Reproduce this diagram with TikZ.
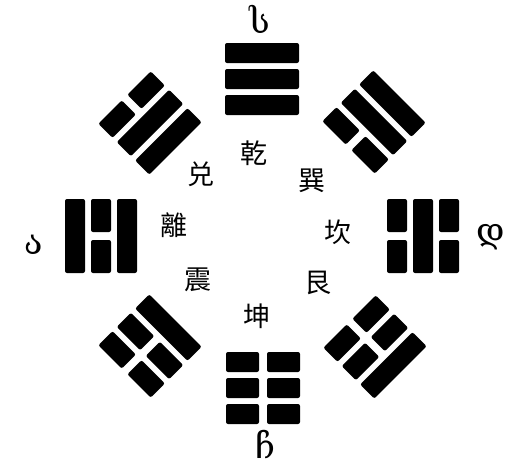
\documentclass[tikz,border=0pt]{standalone}
\usepackage{fontspec}
\newfontfamily\cjk{Noto Sans CJK SC}
\newfontfamily\geo{DejaVu Serif}
\tikzset{
  bar/.style={fill=black, rounded corners=2pt},
  cjklabel/.style={font=\cjk\fontsize{27}{27}\selectfont, inner sep=0pt},
  geolabel/.style={font=\geo\fontsize{34}{34}\selectfont, inner sep=0pt}
}
\newcommand\tline[2]{%
  \ifnum#2=1
    \fill[bar] (-37,#1-10) rectangle (37,#1+10);
  \else
    \fill[bar] (-37,#1-10) rectangle (-4,#1+10);
    \fill[bar] (4,#1-10) rectangle (37,#1+10);
  \fi}
\newcommand\trigram[6]{%
  \begin{scope}[shift={(#1,#2)},rotate=#3]
    \tline{-26}{#4}\tline{0}{#5}\tline{26}{#6}
  \end{scope}}
\begin{document}
\begin{tikzpicture}[x=1pt,y=1pt]
\fill[white] (0,0) rectangle (514,-466);
\useasboundingbox (0,0) rectangle (514,-466);
% trigrams: x, y, rotation, bottom(inner), middle, top(outer)
\trigram{262}{-79}{0}{1}{1}{1}
\trigram{374}{-122}{-45}{0}{1}{1}
\trigram{423}{-236}{-90}{0}{1}{0}
\trigram{375}{-347}{-135}{0}{0}{1}
\trigram{263}{-388}{180}{0}{0}{0}
\trigram{150}{-346}{135}{1}{0}{0}
\trigram{101}{-236}{90}{1}{0}{1}
\trigram{150}{-123}{45}{1}{1}{0}
% Georgian direction labels
\node[geolabel] (south) at (260,-19) {ს};
\node[geolabel] (north) at (265,-444) {ჩ};
\node[geolabel] (east) at (34,-245) {ა};
\node[geolabel] (west) at (491,-237) {დ};
% Chinese names
\node[cjklabel] (qian) at (254,-153) {乾};
\node[cjklabel] (dui) at (201,-174) {兑};
\node[cjklabel] (xun) at (312,-181) {巽};
\node[cjklabel] (li) at (174,-225) {離};
\node[cjklabel] (kan) at (338,-232) {坎};
\node[cjklabel] (zhen) at (198,-280) {震};
\node[cjklabel] (gen) at (318,-283) {艮};
\node[cjklabel] (kun) at (257,-316) {坤};
\end{tikzpicture}
\end{document}
